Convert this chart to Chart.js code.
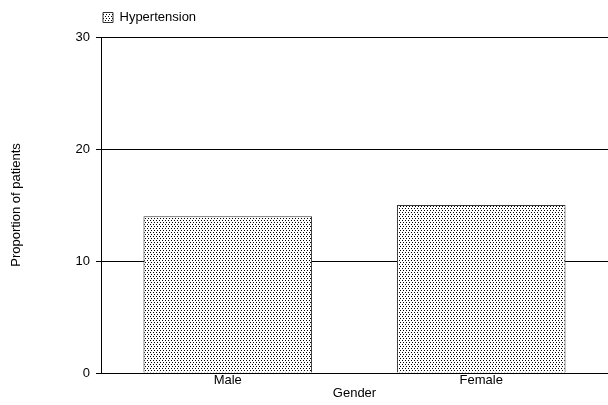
<!DOCTYPE html>
<html>
<head>
<meta charset="utf-8">
<script src="https://cdn.jsdelivr.net/npm/chart.js@4"></script>
<style>
  html, body { margin: 0; padding: 0; background: #fff; }
  #wrap { width: 608px; height: 405px; }
</style>
</head>
<body>
<div id="wrap"><canvas id="myChart" width="608" height="405"></canvas></div>
<script>
const categories = ["Male", "Female"];
const hypertension = [14, 15];
const yTicks = [0, 10, 20, 30];

// stippled fill like the original print-style chart
const tile = document.createElement("canvas");
tile.width = 6;
tile.height = 4;
const tctx = tile.getContext("2d");
tctx.fillStyle = "#fff";
tctx.fillRect(0, 0, 6, 4);
tctx.fillStyle = "#000";
[[0, 0], [3, 0], [1, 2], [4, 2]].forEach(p => tctx.fillRect(p[0], p[1], 1, 1));

const ctx = document.getElementById("myChart").getContext("2d");
const dots = ctx.createPattern(tile, "repeat");

const font = { family: "'Liberation Sans', Arial, sans-serif", size: 13 };

// move the legend so it lines up with the plot's left edge
const legendShift = {
  id: "legendShift",
  afterLayout(chart) {
    const lg = chart.legend;
    lg.left = chart.chartArea.left - 8;
    lg.top -= 3;
    lg.adjustHitBoxes();
  }
};

const config = {
  type: "bar",
  data: {
    labels: categories,
    datasets: [{
      label: "Hypertension",
      data: hypertension,
      backgroundColor: dots,
      borderColor: "#333",
      borderWidth: 1,
      categoryPercentage: 0.665,
      barPercentage: 1.0,
    }],
  },
  options: {
    responsive: false,
    animation: false,
    devicePixelRatio: 1,
    layout: { padding: { top: 4, right: 0, left: 0, bottom: 0 } },
    plugins: {
      legend: {
        position: "top",
        align: "start",
        labels: {
          font: font,
          color: "#000",
          boxWidth: 10,
          boxHeight: 10,
          padding: 10,
        },
      },
      tooltip: { enabled: false },
    },
    scales: {
      x: {
        grid: { display: false, drawTicks: false },
        border: { display: true, color: "#000", width: 1 },
        ticks: { font: font, color: "#000", padding: 0 },
        title: { display: true, text: "Gender", font: font, color: "#000", padding: { top: 0, bottom: 4 } },
        afterFit(s) { s.height = 32; },
      },
      y: {
        min: 0,
        max: 30,
        afterBuildTicks(s) { s.ticks = yTicks.map(v => ({ value: v })); },
        grid: { color: "#000", lineWidth: 1, tickLength: 5, drawTicks: true },
        border: { display: true, color: "#000", width: 1 },
        ticks: { font: font, color: "#000", padding: 6 },
        title: { display: true, text: "Proportion of patients", font: font, color: "#000", padding: { top: 9, bottom: 0 } },
        afterFit(s) { s.width = 101; },
      },
    },
  },
  plugins: [legendShift],
};

const myChart = new Chart(ctx, config);
</script>
</body>
</html>
